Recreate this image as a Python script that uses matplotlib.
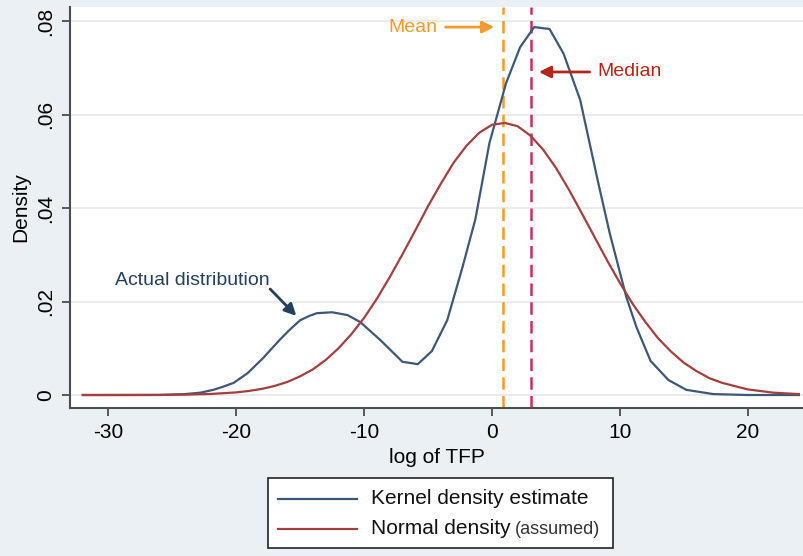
import matplotlib
matplotlib.use("Agg")
import matplotlib.pyplot as plt
from matplotlib.lines import Line2D
from matplotlib.patches import Rectangle

plt.rcParams['font.family'] = ['Liberation Sans', 'DejaVu Sans']
plt.rcParams['axes.unicode_minus'] = False

# Kernel density estimate
kde_x = [-32, -26, -24, -22.8, -21.8, -21, -20.2, -19.1, -17.9, -16.6, -15.8, -15,
         -14.3, -13.7, -12.5, -11.3, -10.3, -8.75, -7, -5.8, -4.7, -3.5, -2.3, -1.3,
         -0.2, 1.1, 2.2, 3.3, 4.5, 5.6, 6.9, 8.3, 9.2, 10.5, 11.3, 12.4, 13.8, 15.2,
         17.3, 20, 24]
kde_y = [0.0, 0.0, 0.0002, 0.0005, 0.0011, 0.0018, 0.0026, 0.0047, 0.0079, 0.0118,
         0.0140, 0.0160, 0.0169, 0.0175, 0.0177, 0.0171, 0.0156, 0.0118, 0.0071,
         0.0066, 0.0094, 0.0160, 0.0274, 0.0376, 0.0539, 0.0667, 0.0744, 0.0787,
         0.0783, 0.0730, 0.0631, 0.0455, 0.0347, 0.0210, 0.0145, 0.0073, 0.0032,
         0.0011, 0.0002, 0.0, 0.0]

# Normal density (assumed)
norm_x = [-32, -30, -28, -26, -24, -22, -20, -19, -18, -17, -16, -15, -14, -13, -12,
          -11, -10, -9, -8, -7, -6, -5, -4, -3, -2, -1, 0, 1, 2, 3, 4, 5, 6, 7, 8, 9,
          10, 11, 12, 13, 14, 15, 16, 17, 18, 20, 22, 24]
norm_y = [0.0, 0.0, 0.00001, 0.00003, 0.00008, 0.00022, 0.00056, 0.00087, 0.00131,
          0.00194, 0.0028, 0.0040, 0.0055, 0.0075, 0.0100, 0.0130, 0.0165, 0.0206,
          0.0252, 0.0301, 0.0352, 0.0404, 0.0452, 0.0497, 0.0533, 0.0561, 0.0578,
          0.0582, 0.0575, 0.0555, 0.0525, 0.0486, 0.0440, 0.0390, 0.0339, 0.0288,
          0.0240, 0.0195, 0.0156, 0.0121, 0.0093, 0.0069, 0.0051, 0.0036, 0.0026,
          0.0012, 0.0005, 0.0002]

mean_val = 0.87
median_val = 3.05

x_ticks = [-30, -20, -10, 0, 10, 20]
y_ticks = [0, 0.02, 0.04, 0.06, 0.08]
y_tick_labels = ['0', '.02', '.04', '.06', '.08']

bg = '#eaf0f3'
kde_color = '#3d5877'
norm_color = '#a3403f'
mean_color = '#f59a2b'
median_color = '#c2306a'
median_text_color = '#b3261a'
navy = '#24405e'

fig = plt.figure(figsize=(8.04, 5.56), dpi=100, facecolor=bg)
ax = fig.add_axes([70/804, 148/556, 734/804, 401/556])
ax.set_facecolor('white')

for yt in y_ticks:
    ax.axhline(yt, color='#ebebeb', lw=1.5, zorder=0)

ax.plot(kde_x, kde_y, color=kde_color, lw=1.6, zorder=3)
ax.plot(norm_x, norm_y, color=norm_color, lw=1.6, zorder=3)

ax.axvline(mean_val, color=mean_color, lw=1.8, ls=(0, (5, 2.5)), zorder=2)
ax.axvline(median_val, color=median_color, lw=1.8, ls=(0, (5, 2.5)), zorder=2)

ax.set_xlim(-33.0, 24.4)
ax.set_ylim(-0.00278, 0.0830)

ax.set_xticks(x_ticks)
ax.set_yticks(y_ticks)
ax.set_yticklabels(y_tick_labels, rotation=90, va='center')
ax.tick_params(axis='both', labelsize=15, length=6, width=1.3, color='#4d4d4d',
               direction='out')
ax.tick_params(axis='y', pad=5)
ax.tick_params(axis='x', pad=5)

for s in ['top', 'right']:
    ax.spines[s].set_visible(False)
for s in ['left', 'bottom']:
    ax.spines[s].set_color('#4d4d4d')
    ax.spines[s].set_linewidth(1.5)

ax.set_xlabel('log of TFP', fontsize=15, labelpad=4)
ax.set_ylabel('Density', fontsize=15, labelpad=4)

# Annotations
ax.annotate('', xy=(0.39, 0.0787), xytext=(-3.85, 0.0787),
            arrowprops=dict(arrowstyle='-|>,head_length=0.7,head_width=0.35',
                            color=mean_color, lw=2))
ax.text(-4.3, 0.0787, 'Mean', color=mean_color, fontsize=14, ha='right', va='center')

ax.annotate('', xy=(3.45, 0.0691), xytext=(7.85, 0.0691),
            arrowprops=dict(arrowstyle='-|>,head_length=0.7,head_width=0.35',
                            color=median_text_color, lw=2))
ax.text(8.28, 0.0691, 'Median', color=median_text_color, fontsize=14, ha='left',
        va='center')

ax.annotate('', xy=(-15.15, 0.0165), xytext=(-17.5, 0.0231),
            arrowprops=dict(arrowstyle='-|>,head_length=0.7,head_width=0.35',
                            color=navy, lw=2))
ax.text(-29.45, 0.0246, 'Actual distribution', color=navy, fontsize=14,
        ha='left', va='center')

# Manual legend
W, H = 804.0, 556.0
fig.patches.append(Rectangle((268/W, 8/H), (613-268)/W, 70/H, transform=fig.transFigure,
                             facecolor='white', edgecolor='#222222', lw=1.2, zorder=5))
for yy, col in [(57, kde_color), (27, norm_color)]:
    fig.lines.append(Line2D([278/W, 357/W], [yy/H, yy/H], transform=fig.transFigure,
                            color=col, lw=1.6, zorder=6))
fig.text(371/W, 57/H, 'Kernel density estimate', fontsize=15, va='center',
         ha='left', color='#111111', zorder=7)
t2 = fig.text(371/W, 27/H, 'Normal density', fontsize=15, va='center', ha='left',
              color='#111111', zorder=7)
fig.canvas.draw()
bb = t2.get_window_extent(fig.canvas.get_renderer())
fig.text((bb.x1 + 4)/W, 27/H, '(assumed)', fontsize=13, va='center', ha='left',
         color='#333333', zorder=7)

fig.savefig('out.png', dpi=100, facecolor=bg)
